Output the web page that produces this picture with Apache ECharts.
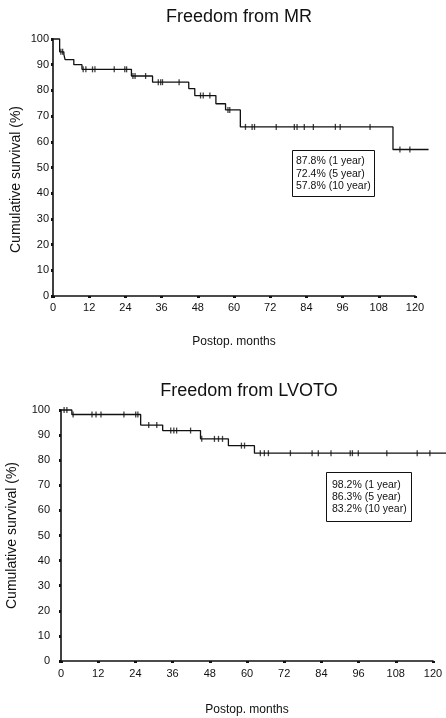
<!DOCTYPE html>
<html>
<head>
<meta charset="utf-8">
<script src="https://cdn.jsdelivr.net/npm/echarts@6/dist/echarts.min.js"></script>
<style>html,body{margin:0;padding:0;background:#fff}#c{width:446px;height:718px}</style>
</head>
<body>
<div id="c"></div>
<script>
// ---- data ----
var xTicks = [0, 12, 24, 36, 48, 60, 72, 84, 96, 108, 120];
var yTicks = [0, 10, 20, 30, 40, 50, 60, 70, 80, 90, 100];

var titleMR = 'Freedom from MR';
var mrTimes  = [0, 2.2, 3.6, 4, 6.9, 9.6, 26, 33, 45, 47, 54, 57.2, 62.1, 112.7, 124.5];
var mrValues = [100, 95, 94, 92, 90, 88.2, 85.6, 83.2, 80.7, 78, 74.8, 72.4, 65.8, 57, 57];
var mrCensored = [2.6, 3.2, 10, 10.9, 13.1, 13.9, 20.3, 23.8, 24.4, 26.5, 27.2, 30.7, 34.9, 35.7, 36.3, 41.8, 48.9, 49.8, 52, 58, 58.6, 63.8, 66, 66.8, 74, 80, 80.9, 83.3, 86.3, 93.6, 95.2, 105.1, 115, 118.3];
var mrBox = ['87.8% (1 year)', '72.4% (5 year)', '57.8% (10 year)'];

var titleLV = 'Freedom from LVOTO';
var lvTimes  = [0, 3.5, 25.7, 32.8, 45, 54, 62.4, 124.5];
var lvValues = [100, 98.2, 94, 91.8, 88.5, 85.8, 82.8, 82.8];
var lvCensored = [1, 1.9, 3.9, 10, 11.3, 12.9, 20.3, 24.1, 24.8, 28.3, 30.9, 35.4, 36.4, 37.3, 41.8, 45.4, 49.5, 50.8, 52.1, 58.2, 59.2, 64.3, 65.6, 66.9, 74, 81, 83, 87.1, 93.3, 94, 95.9, 105.1, 114.9, 119];
var lvBox = ['98.2% (1 year)', '86.3% (5 year)', '83.2% (10 year)'];

var yName = 'Cumulative survival (%)';
var xName = 'Postop. months';

// follow-up extends a little beyond the last labelled tick
var followMax = 125;

// ---- helpers ----
function pairs(t, v) { return t.map(function (x, i) { return [x, v[i]]; }); }
function levelAt(t, times, vals) {
  var v = vals[0];
  for (var i = 0; i < times.length; i++) { if (times[i] <= t) v = vals[i]; }
  return v;
}
function censorPts(c, times, vals) { return c.map(function (t) { return [t, levelAt(t, times, vals)]; }); }

var FONT = 'Liberation Sans, Arial, sans-serif';
var black = '#111';

function xAxis(gi, margin, gap) {
  return {
    type: 'value', gridIndex: gi, min: 0, max: 120, interval: 12,
    name: xName, nameLocation: 'middle', nameGap: gap, nameMoveOverlap: false,
    nameTextStyle: { fontFamily: FONT, fontSize: 12, color: black },
    axisLine: { lineStyle: { color: black, width: 1.6 } },
    axisTick: { show: true, length: 2, lineStyle: { color: black, width: 3 } },
    axisLabel: { margin: margin, fontFamily: FONT, fontSize: 11, color: black },
    splitLine: { show: false }
  };
}
function yAxis(gi, margin, gap, pad) {
  return {
    type: 'value', gridIndex: gi, min: 0, max: 100, interval: 10,
    name: yName, nameLocation: 'middle', nameGap: gap, nameMoveOverlap: false,
    nameTextStyle: { fontFamily: FONT, fontSize: 14, color: black, padding: pad },
    axisLine: { show: true, lineStyle: { color: black, width: 1.6 } },
    axisTick: { show: true, length: 2, lineStyle: { color: black, width: 3 } },
    axisLabel: { margin: margin, fontFamily: FONT, fontSize: 11, color: black },
    splitLine: { show: false }
  };
}
function hiddenX(gi) { return { type: 'value', gridIndex: gi, min: 0, max: followMax, show: false }; }
function hiddenY(gi) { return { type: 'value', gridIndex: gi, min: 0, max: 100, show: false }; }
function stepSeries(gi, t, v) {
  return {
    type: 'line', xAxisIndex: gi, yAxisIndex: gi, step: 'end', clip: false,
    symbol: 'none', data: pairs(t, v), silent: true,
    lineStyle: { color: black, width: 1.3 }
  };
}
function censorSeries(gi, c, t, v) {
  return {
    type: 'scatter', xAxisIndex: gi, yAxisIndex: gi, clip: false,
    symbol: 'rect', symbolSize: [1.3, 6], data: censorPts(c, t, v), silent: true,
    itemStyle: { color: black }
  };
}
function box(lines, left, top, pad, lh) {
  return {
    text: lines.join('\n'), left: left, top: top, padding: pad,
    borderColor: black, borderWidth: 1, backgroundColor: '#fff',
    textStyle: { fontFamily: FONT, fontSize: 10.5, fontWeight: 'normal', color: black, lineHeight: lh }
  };
}

var g0 = { left: 53, top: 39, width: 362, height: 257, containLabel: false, outerBoundsMode: 'none' };
var g1 = { left: 61, top: 410, width: 372, height: 251, containLabel: false, outerBoundsMode: 'none' };
function ext(g) {
  return { left: g.left, top: g.top, height: g.height, width: g.width * followMax / 120,
           containLabel: false, outerBoundsMode: 'none' };
}

var chart = echarts.init(document.getElementById('c'), null, { renderer: 'canvas' });
chart.setOption({
  backgroundColor: '#fff',
  animation: false,
  title: [
    { text: titleMR, left: 239, top: 8, padding: 0, textAlign: 'center',
      textStyle: { fontFamily: FONT, fontSize: 18, fontWeight: 'normal', color: black } },
    { text: titleLV, left: 249, top: 382, padding: 0, textAlign: 'center',
      textStyle: { fontFamily: FONT, fontSize: 18, fontWeight: 'normal', color: black } },
    box(mrBox, 292, 150, [5, 4, 4, 4], 12.5),
    box(lvBox, 326, 472, [7, 5, 7, 6], 12)
  ],
  grid: [g0, g1, ext(g0), ext(g1)],
  xAxis: [xAxis(0, 6, 40), xAxis(1, 7, 43), hiddenX(2), hiddenX(3)],
  yAxis: [yAxis(0, 4, 30, [0, 24, 0, 0]), yAxis(1, 11, 42, 0), hiddenY(2), hiddenY(3)],
  series: [
    stepSeries(2, mrTimes, mrValues),
    censorSeries(0, mrCensored, mrTimes, mrValues),
    stepSeries(3, lvTimes, lvValues),
    censorSeries(1, lvCensored, lvTimes, lvValues)
  ]
});
</script>
</body>
</html>
